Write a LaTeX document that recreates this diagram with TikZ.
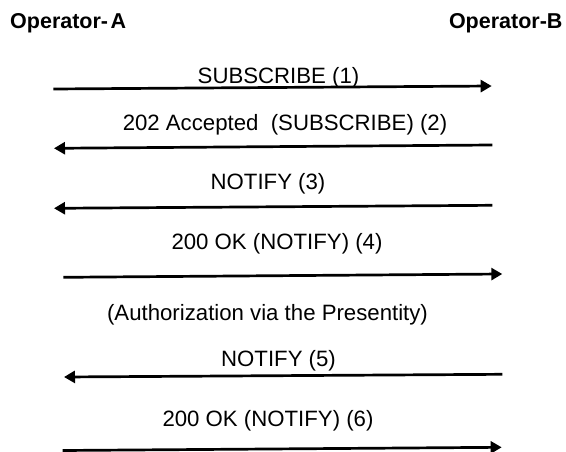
\documentclass[tikz,border=0pt]{standalone}
\usepackage{fontspec}
\setmainfont{Liberation Sans}
\usetikzlibrary{arrows.meta}
\begin{document}
\begin{tikzpicture}[x=1pt,y=-1pt,
  lbl/.style={anchor=base,inner sep=0pt,font=\fontsize{22.2}{26}\selectfont},
  ttl/.style={inner sep=0pt,font=\fontsize{21.5}{25}\selectfont\bfseries},
  msg/.style={line width=2.7pt,-{Triangle[length=11pt,width=12pt]}}]
\useasboundingbox (0,0) rectangle (566,452);
% titles
\node[ttl,anchor=base west] (opA) at (10,28.3) {Operator-\hspace{2.5pt}A};
\node[ttl,anchor=base east] (opB) at (562.7,28.3) {Operator-B};
% endpoints
\coordinate (a1s) at (53.3,89);   \coordinate (a1e) at (491.7,86);
\coordinate (a2s) at (492.3,145); \coordinate (a2e) at (54,148.3);
\coordinate (a3s) at (492.3,205.3); \coordinate (a3e) at (54,208.3);
\coordinate (a4s) at (63.3,277.3); \coordinate (a4e) at (502.3,274);
\coordinate (a5s) at (502.3,374.3); \coordinate (a5e) at (64,377);
\coordinate (a6s) at (62.7,450.5); \coordinate (a6e) at (501.7,447.3);
% labels
\node[lbl] (l1) at (278.5,83.3) {SUBSCRIBE (1)};
\node[lbl] (l2) at (285,130.5) {202 Accepted\ \ (SUBSCRIBE) (2)};
\node[lbl] (l3) at (268,189.3) {NOTIFY (3)};
\node[lbl] (l4) at (277,249.3) {200 OK (NOTIFY) (4)};
\node[lbl] (la) at (267.5,320.5) {(Authorization via the Presentity)};
\node[lbl] (l5) at (278.5,366) {NOTIFY (5)};
\node[lbl] (l6) at (268,426) {200 OK (NOTIFY) (6)};
% messages
\draw[msg] (a1s) -- (a1e);
\draw[msg] (a2s) -- (a2e);
\draw[msg] (a3s) -- (a3e);
\draw[msg] (a4s) -- (a4e);
\draw[msg] (a5s) -- (a5e);
\draw[msg] (a6s) -- (a6e);
\end{tikzpicture}
\end{document}
